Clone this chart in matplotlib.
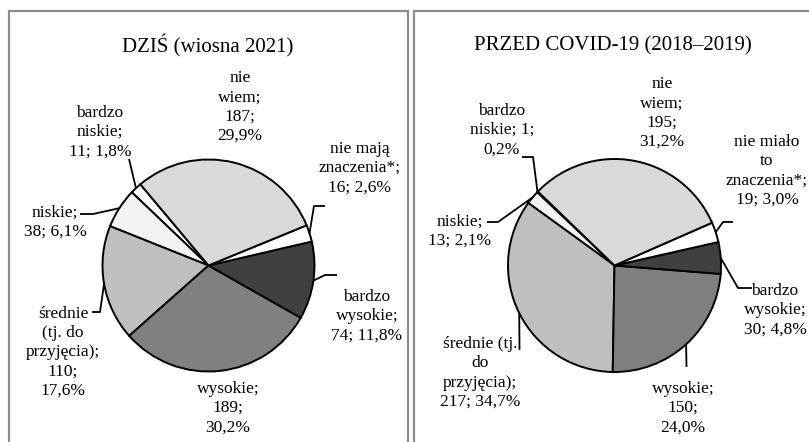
import numpy as np
import matplotlib
matplotlib.use("Agg")
import matplotlib.pyplot as plt
from matplotlib.patches import Rectangle

# ---------------- data ----------------
categories = ["bardzo niskie", "niskie", "średnie (tj. do przyjęcia)", "wysokie",
              "bardzo wysokie", "nie ma znaczenia*", "nie wiem"]
counts_now = [11, 38, 110, 189, 74, 16, 187]
pct_now = [1.8, 6.1, 17.6, 30.2, 11.8, 2.6, 29.9]
counts_before = [1, 13, 217, 150, 30, 19, 195]
pct_before = [0.2, 2.1, 34.7, 24.0, 4.8, 3.0, 31.2]

title_now = "DZIŚ (wiosna 2021)"
title_before = "PRZED COVID-19 (2018–2019)"

label_tpl_now = ["bardzo\nniskie;\n{n}; {p}", "niskie;\n{n}; {p}",
                 "średnie\n(tj. do\nprzyjęcia);\n{n};\n{p}", "wysokie;\n{n};\n{p}",
                 "bardzo\nwysokie;\n{n}; {p}", "nie mają\nznaczenia*;\n{n}; {p}",
                 "nie\nwiem;\n{n};\n{p}"]
label_tpl_before = ["bardzo\nniskie; {n};\n{p}", "niskie;\n{n}; {p}",
                    "średnie (tj.\ndo\nprzyjęcia);\n{n}; {p}", "wysokie;\n{n};\n{p}",
                    "bardzo\nwysokie;\n{n}; {p}", "nie miało\nto\nznaczenia*;\n{n}; {p}",
                    "nie\nwiem;\n{n};\n{p}"]

# ---------------- style / layout ----------------
colors = ["#ffffff", "#f2f2f2", "#bfbfbf", "#808080", "#404040", "#ffffff", "#d9d9d9"]
W, H = 809, 442
FONT = "Liberation Serif"

panels = [
    dict(center=(208.5, 265.5), radius=106, start=130, title_xy=(208, 46),
         counts=counts_now, pct=pct_now, tpl=label_tpl_now, title=title_now,
         label_xy=[(100, 132), (55, 222), (63, 352), (228, 408), (367, 316), (360, 168), (240, 107)],
         leaders=[[(129, 159)], [(80, 214), (93, 214)], [(92, 312), (100, 312)], None,
                  [(337, 275), (325, 275)], [(325, 206), (314, 206)], None]),
    dict(center=(614.5, 265.5), radius=106.5, start=136, title_xy=(613, 46),
         counts=counts_before, pct=pct_before, tpl=label_tpl_before, title=title_before,
         label_xy=[(502, 130), (460, 231), (480, 373), (683, 408), (775, 310), (767, 171), (662, 113)],
         leaders=[[(522, 157), (533, 157)], [(487, 222), (498, 222)], [(519.5, 350)],
                  [(686.5, 367)], [(752, 288), (738, 288)], [(733, 222), (723, 222)], None]),
]


def fmt_pct(p):
    return f"{p:.1f}".replace(".", ",") + "%"


fig = plt.figure(figsize=(W / 100, H / 100), dpi=100)
ax = fig.add_axes([0, 0, 1, 1])
ax.set_xlim(0, W)
ax.set_ylim(0, H)
ax.set_aspect("equal")
ax.axis("off")

# panel frames
border = "#8c8c8c"
ax.add_patch(Rectangle((9, -20), 399, H - 11 + 20, fill=False, edgecolor=border, lw=1.6))
ax.add_patch(Rectangle((414, -20), 420, H - 11 + 20, fill=False, edgecolor=border, lw=1.6))

for P in panels:
    cx, cy = P["center"]
    cY = H - cy
    wedges, _ = ax.pie(P["counts"], colors=colors, startangle=P["start"], counterclock=True,
                       center=(cx, cY), radius=P["radius"], frame=True,
                       wedgeprops=dict(edgecolor="black", linewidth=1.4))
    ax.text(P["title_xy"][0], H - P["title_xy"][1], P["title"], ha="center", va="center",
            fontsize=15, family=FONT, color="black")
    for i, w in enumerate(wedges):
        txt = P["tpl"][i].format(n=P["counts"][i], p=fmt_pct(P["pct"][i]))
        lx, ly = P["label_xy"][i]
        ax.text(lx, H - ly, txt, ha="center", va="center", multialignment="center",
                fontsize=12.5, family=FONT, linespacing=1.27, color="black")
        if P["leaders"][i] is not None:
            mid = np.deg2rad((w.theta1 + w.theta2) / 2)
            ex = cx + w.r * np.cos(mid)
            ey = cY + w.r * np.sin(mid)
            pts = [(x, H - y) for x, y in P["leaders"][i]] + [(ex, ey)]
            xs, ys = zip(*pts)
            ax.plot(xs, ys, color="black", lw=1.3, solid_capstyle="butt")

ax.set_xlim(0, W)
ax.set_ylim(0, H)
ax.axis("off")
fig.savefig("out.png", dpi=100)
